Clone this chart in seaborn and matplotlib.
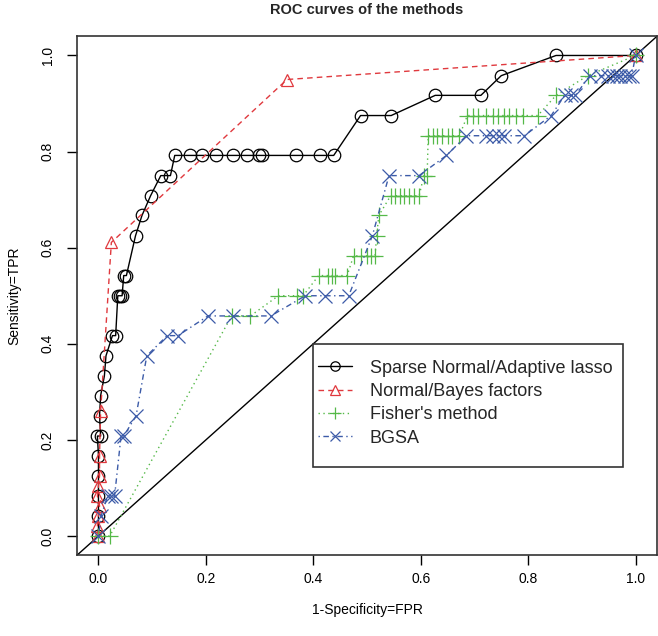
import numpy as np
import pandas as pd
import matplotlib
matplotlib.use("Agg")
import matplotlib.pyplot as plt
from matplotlib.patches import Rectangle
import seaborn as sns

# ROC points
sparse_fpr = [0.0, 0.0, 0.0, 0.0, 0.0, -0.002, 0.004, 0.002, 0.004, 0.011, 0.014, 0.026, 0.032,
              0.036, 0.040, 0.044, 0.047, 0.052, 0.069, 0.081, 0.097, 0.116, 0.134, 0.142, 0.170,
              0.192, 0.219, 0.251, 0.277, 0.298, 0.304, 0.368, 0.412, 0.438, 0.488, 0.545, 0.627,
              0.712, 0.750, 0.852, 1.0]
sparse_tpr = [0.0, 0.042, 0.083, 0.125, 0.167, 0.208, 0.208, 0.25, 0.292, 0.333, 0.375, 0.417, 0.417,
              0.5, 0.5, 0.5, 0.542, 0.542, 0.625, 0.667, 0.708, 0.75, 0.75, 0.792, 0.792,
              0.792, 0.792, 0.792, 0.792, 0.792, 0.792, 0.792, 0.792, 0.792, 0.875, 0.875, 0.917,
              0.917, 0.958, 1.0, 1.0]

bayes_fpr = [0.0, -0.002, 0.0, 0.002, -0.002, 0.0, 0.002, 0.002, 0.004, 0.024, 0.351, 1.0]
bayes_tpr = [0.0, 0.021, 0.042, 0.063, 0.083, 0.104, 0.125, 0.167, 0.26, 0.611, 0.95, 1.0]

fisher_fpr = [0.0, 0.021, 0.248, 0.283, 0.335, 0.369, 0.381, 0.410, 0.428, 0.434, 0.441, 0.463,
              0.475, 0.488, 0.500, 0.507, 0.515, 0.518, 0.522, 0.544, 0.553, 0.561, 0.569, 0.578,
              0.587, 0.597, 0.606, 0.612, 0.614, 0.622, 0.631, 0.640, 0.650, 0.659, 0.672,
              0.687, 0.697, 0.706, 0.721, 0.734, 0.743, 0.756, 0.765, 0.778, 0.790, 0.818,
              0.852, 0.911, 1.0]
fisher_tpr = [0.0, 0.0, 0.458, 0.458, 0.5, 0.5, 0.5, 0.542, 0.542, 0.542, 0.542, 0.542,
              0.583, 0.583, 0.583, 0.583, 0.583, 0.625, 0.667, 0.708, 0.708, 0.708, 0.708, 0.708,
              0.708, 0.708, 0.75, 0.75, 0.833, 0.833, 0.833, 0.833, 0.833, 0.833, 0.833,
              0.875, 0.875, 0.875, 0.875, 0.875, 0.875, 0.875, 0.875, 0.875, 0.875, 0.875,
              0.917, 0.958, 1.0]

bgsa_fpr = [0.0, 0.005, 0.017, 0.024, 0.030, 0.042, 0.047, 0.070, 0.090, 0.128, 0.148, 0.204,
            0.251, 0.321, 0.385, 0.422, 0.466, 0.510, 0.541, 0.597, 0.648, 0.685, 0.721, 0.734,
            0.746, 0.756, 0.793, 0.843, 0.868, 0.880, 0.888, 0.915, 0.936, 0.948, 0.958, 0.965,
            0.972, 0.980, 0.988, 0.993, 1.0]
bgsa_tpr = [0.0, 0.042, 0.083, 0.083, 0.083, 0.208, 0.208, 0.25, 0.375, 0.417, 0.417, 0.458,
            0.458, 0.458, 0.5, 0.5, 0.5, 0.625, 0.75, 0.75, 0.792, 0.833, 0.833, 0.833,
            0.833, 0.833, 0.833, 0.875, 0.917, 0.917, 0.917, 0.958, 0.958, 0.958, 0.958, 0.958,
            0.958, 0.958, 0.958, 0.958, 1.0]

labels = ["Sparse Normal/Adaptive lasso", "Normal/Bayes factors", "Fisher's method", "BGSA"]
colors = ["black", "#E0393E", "#55B948", "#3C5BA8"]
markers = ["o", "^", "+", "x"]
msizes = [9, 9, 11, 10]
linestyles = ["-", (0, (4, 3)), (0, (1, 2.5)), (0, (1, 2.5, 4, 2.5))]

sns.set_theme(style="ticks")
plt.rcParams["font.family"] = ["Liberation Sans", "DejaVu Sans"]

fig = plt.figure(figsize=(6.58, 6.36), dpi=100)
ax = fig.add_axes([0.117, 0.127, 0.8815, 0.816])

ax.axline((0, 0), (1, 1), color="black", lw=1.0, zorder=1)

series = [(sparse_fpr, sparse_tpr), (bayes_fpr, bayes_tpr), (fisher_fpr, fisher_tpr), (bgsa_fpr, bgsa_tpr)]
for (fx, fy), lab, col, mk, ms, ls in zip(series, labels, colors, markers, msizes, linestyles):
    df = pd.DataFrame({"fpr": fx, "tpr": fy})
    sns.lineplot(data=df, x="fpr", y="tpr", sort=False, estimator=None, ax=ax,
                 color=col, linestyle=ls, lw=1.0, marker=mk, markersize=ms,
                 markerfacecolor="none", markeredgecolor=col, markeredgewidth=0.9,
                 label=lab, zorder=3)

ax.set_xlim(-0.04, 1.04)
ax.set_ylim(-0.04, 1.04)
ticks = [0.0, 0.2, 0.4, 0.6, 0.8, 1.0]
ax.set_xticks(ticks)
ax.set_yticks(ticks)
ax.set_xticklabels([f"{t:.1f}" for t in ticks])
ax.set_yticklabels([f"{t:.1f}" for t in ticks], rotation=90, va="center")
ax.tick_params(axis="both", length=7, width=1, color="black", labelsize=10, labelcolor="black")
ax.tick_params(axis="x", pad=5)
ax.tick_params(axis="y", pad=9)
for sp in ax.spines.values():
    sp.set_visible(True)
    sp.set_color("#333333")
    sp.set_linewidth(1.2)

ax.set_xlabel("1-Specificity=FPR", fontsize=10, labelpad=12, color="black")
ax.set_ylabel("Sensitivity=TPR", fontsize=10, labelpad=14, color="black")
ax.set_title("ROC curves of the methods", fontsize=10.5, fontweight="bold", pad=16)

# R-style legend box: white frame from (0.4, 0.4) down to the lower right
ax.add_patch(Rectangle((0.4, 0.143), 0.576, 0.257, facecolor="white", edgecolor="#333333",
                       lw=1.2, zorder=4))
leg = ax.legend(loc="upper left", bbox_to_anchor=(0.409, 0.367), bbox_transform=ax.transData,
                borderaxespad=0, borderpad=0, frameon=False, markerscale=0.75,
                fontsize=13, handlelength=1.9, handletextpad=0.95, labelspacing=0.35)
leg.set_zorder(5)

fig.savefig("out.png", dpi=100)
